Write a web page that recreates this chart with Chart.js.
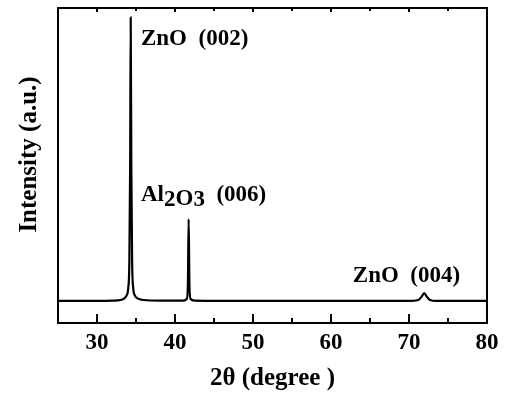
<!DOCTYPE html>
<html>
<head>
<meta charset="utf-8">
<script src="https://cdn.jsdelivr.net/npm/chart.js@4"></script>
<style>
  html, body { margin: 0; padding: 0; background: #fff; }
  #wrap { width: 511px; height: 394px; }
</style>
</head>
<body>
<div id="wrap"><canvas id="xrd"></canvas></div>
<script>
// 2theta positions and intensity
const twoTheta = [25, 30, 32, 33, 33.5, 33.8, 34.0, 34.15, 34.25, 34.32, 34.4, 34.5, 34.65, 34.85, 35.2, 36, 38,
  41, 41.5, 41.65, 41.75, 41.85, 42.0, 42.5, 50, 60, 70, 71.2, 71.6, 71.95, 72.3, 72.7, 73.5, 80];
const intensity = [7, 7, 7.1, 7.3, 7.8, 8.8, 11, 20, 50, 97, 50, 20, 11, 8.8, 7.8, 7.3, 7.1,
  7.1, 7.6, 12, 33, 12, 7.6, 7.1, 7, 7, 7, 7.3, 8.3, 9.5, 8.3, 7.3, 7, 7];

const xTicks = [30, 40, 50, 60, 70, 80];

const peakLabels = [
  { x: 35.64, y: 88.3, parts: [['ZnO  (002)', 0]] },
  { x: 35.64, y: 38.7, parts: [['Al', 0], ['2', 5], ['O', 4], ['3', 5], ['  (006)', 0]] },
  { x: 62.8, y: 13.0, parts: [['ZnO  (004)', 0]] },
];

const serif = '"Liberation Serif", "Times New Roman", serif';

const frame = {
  id: 'frame',
  afterDraw(chart) {
    const { ctx, chartArea: a, scales } = chart;
    ctx.save();
    ctx.strokeStyle = '#000';
    ctx.lineWidth = 2;
    ctx.strokeRect(a.left, a.top, a.right - a.left, a.bottom - a.top);
    // inward ticks, bottom and top
    for (let v = 30; v < 80; v += 5) {
      const px = Math.round(scales.x.getPixelForValue(v));
      const major = v % 10 === 0;
      ctx.beginPath();
      ctx.moveTo(px, a.bottom);
      ctx.lineTo(px, a.bottom - (major ? 9 : 5));
      ctx.moveTo(px, a.top);
      ctx.lineTo(px, a.top + (major ? 4 : 3));
      ctx.stroke();
    }
    ctx.fillStyle = '#000';
    ctx.textBaseline = 'alphabetic';
    ctx.textAlign = 'left';
    // peak labels
    ctx.font = 'bold 23px ' + serif;
    peakLabels.forEach(l => {
      let px = scales.x.getPixelForValue(l.x);
      const py = scales.y.getPixelForValue(l.y);
      l.parts.forEach(([t, dy]) => {
        ctx.fillText(t, px, py + dy);
        px += ctx.measureText(t).width;
      });
    });
    // y axis title
    ctx.font = 'bold 25px ' + serif;
    ctx.textAlign = 'center';
    ctx.textBaseline = 'middle';
    ctx.translate(30, a.top + (a.bottom - a.top) * 0.465);
    ctx.rotate(-Math.PI / 2);
    ctx.fillText('Intensity (a.u.)', 0, 0);
    ctx.restore();
  }
};

new Chart(document.getElementById('xrd'), {
  type: 'line',
  data: {
    datasets: [{
      data: twoTheta.map((t, i) => ({ x: t, y: intensity[i] })),
      borderColor: '#000',
      borderWidth: 2.2,
      pointRadius: 0,
      cubicInterpolationMode: 'monotone',
      fill: false,
    }],
  },
  options: {
    responsive: true,
    maintainAspectRatio: false,
    animation: false,
    layout: { padding: { top: 8, right: 24, left: 0, bottom: 0 } },
    plugins: { legend: { display: false }, tooltip: { enabled: false } },
    scales: {
      x: {
        type: 'linear',
        min: 25,
        max: 80,
        afterFit: s => { s.height = 71; },
        afterBuildTicks: s => { s.ticks = xTicks.map(v => ({ value: v })); },
        grid: { display: false, drawTicks: false },
        border: { display: false },
        ticks: { color: '#000', padding: 6, font: { family: serif, size: 23, weight: 'bold' } },
        title: {
          display: true,
          text: '2θ (degree )',
          color: '#000',
          padding: { top: 0, bottom: 0 },
          font: { family: serif, size: 25, weight: 'bold' },
        },
      },
      y: {
        min: 0,
        max: 100,
        afterFit: s => { s.width = 58; },
        grid: { display: false, drawTicks: false },
        border: { display: false },
        ticks: { display: false },
      },
    },
  },
  plugins: [frame],
});
</script>
</body>
</html>
